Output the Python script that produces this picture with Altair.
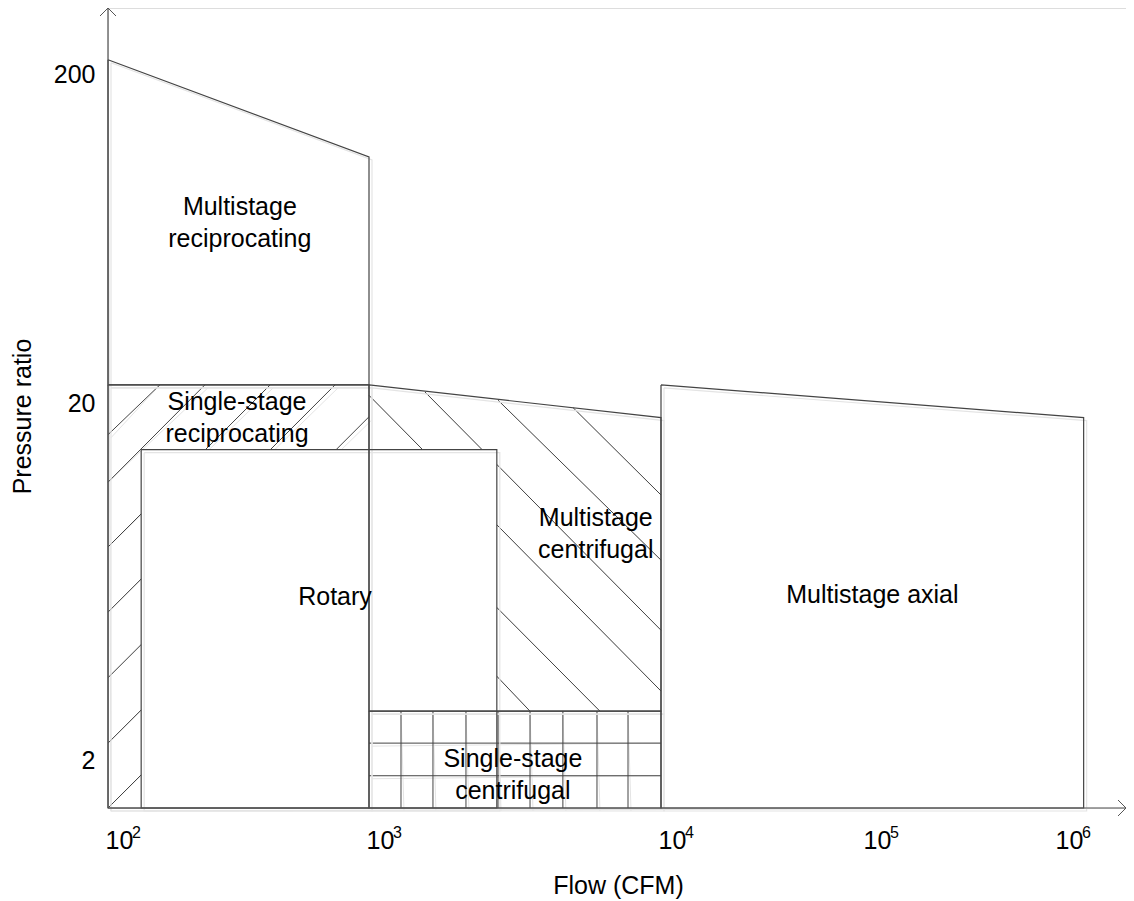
import altair as alt
import numpy as np
import pandas as pd

FONT = "Liberation Sans"
OUT = "#444444"
AXC = "#555555"
SHADOW = "#e4e4e4"
FS = 25

# ---- axis ticks / extents -------------------------------------------------
FLOW_TICK_EXP = [2, 3, 4, 5, 6]            # 10^2 ... 10^6 CFM
EXP_TEXT = ["2", "3", "4", "5", "6"]
PR_TICKS = [2, 20, 200]
PR_MIN = 1.5
PR_TOP = 318
FLOW_END = 2.26e6

# ---- region outlines (flow CFM, pressure ratio) ---------------------------
MREC_FLOW = [100, 1000, 1000, 100, 100]
MREC_PR = [221, 112, 22.7, 22.7, 221]
SREC_FLOW = [100, 1000, 1000, 100, 100]
SREC_PR = [22.7, 22.7, PR_MIN, PR_MIN, 22.7]
ROT_FLOW = [134, 2740, 2740, 134, 134]
ROT_PR = [14.8, 14.8, PR_MIN, PR_MIN, 14.8]
MCEN_FLOW = [1000, 10000, 10000, 1000, 1000]
MCEN_PR = [22.7, 18.2, 2.74, 2.74, 22.7]
SCEN_FLOW = [1000, 10000, 10000, 1000, 1000]
SCEN_PR = [2.74, 2.74, PR_MIN, PR_MIN, 2.74]
AX_FLOW = [10000, 1.36e6, 1.36e6, 10000, 10000]
AX_PR = [22.7, 18.2, PR_MIN, PR_MIN, 22.7]

# ---- hatch of single-stage reciprocating ("/") ----------------------------
SREC_H_F1 = [100, 235, 418, 741, 1000, 1000, 1000]
SREC_H_P1 = [16.3, 22.7, 22.7, 22.7, 18.3, 12.0, 7.90]
SREC_H_F2 = [158, 100, 100, 100, 100, 100, 100]
SREC_H_P2 = [22.7, 12.0, 7.90, 5.19, 3.40, 2.23, PR_MIN]

# ---- hatch of multistage centrifugal ("\") --------------------------------
MCEN_H_F1 = [1000, 1555, 2766, 5000, 1000, 1000]
MCEN_H_P1 = [21.1, 21.6, 20.4, 19.4, 12.25, 8.16]
MCEN_H_F2 = [10000, 10000, 10000, 10000, 6180, 3560]
MCEN_H_P2 = [3.12, 4.62, 7.26, 11.05, 2.74, 2.74]

# ---- grid of single-stage centrifugal -------------------------------------
SCEN_GRID_FLOW = [1287, 1656, 2148, 2766, 3560, 4613, 6036, 7709]
SCEN_GRID_PR = [2.23, 1.82]

# ---- labels (anchor = first text line) ------------------------------------
LABELS = ["Multistage\nreciprocating", "Single-stage\nreciprocating", "Rotary",
          "Multistage\ncentrifugal", "Single-stage\ncentrifugal", "Multistage axial"]
LABEL_FLOW = [320, 312, 741, 5980, 3110, 1.08e5]
LABEL_PR = [78.9, 20.1, 5.72, 9.53, 2.01, 5.80]

L = np.log10

# ---- tables ----------------------------------------------------------------
rows = []
for name, fl, pr in [("Multistage reciprocating", MREC_FLOW, MREC_PR),
                     ("Single-stage reciprocating", SREC_FLOW, SREC_PR),
                     ("Rotary", ROT_FLOW, ROT_PR),
                     ("Multistage centrifugal", MCEN_FLOW, MCEN_PR),
                     ("Single-stage centrifugal", SCEN_FLOW, SCEN_PR),
                     ("Multistage axial", AX_FLOW, AX_PR)]:
    for i, (f, p) in enumerate(zip(fl, pr)):
        rows.append({"region": name, "i": i, "lx": float(L(f)), "ly": float(L(p))})
outline = pd.DataFrame(rows)

seg_rows = []
for f1, p1, f2, p2 in zip(SREC_H_F1 + MCEN_H_F1, SREC_H_P1 + MCEN_H_P1,
                          SREC_H_F2 + MCEN_H_F2, SREC_H_P2 + MCEN_H_P2):
    seg_rows.append({"lx1": float(L(f1)), "ly1": float(L(p1)),
                     "lx2": float(L(f2)), "ly2": float(L(p2))})
hatch = pd.DataFrame(seg_rows)

grid_rows = []
for f in SCEN_GRID_FLOW:
    grid_rows.append({"lx1": float(L(f)), "ly1": float(L(PR_MIN)),
                      "lx2": float(L(f)), "ly2": float(L(2.74))})
for p in SCEN_GRID_PR:
    grid_rows.append({"lx1": 3.0, "ly1": float(L(p)), "lx2": 4.0, "ly2": float(L(p))})
grid = pd.DataFrame(grid_rows)

rot_fill = pd.DataFrame({"lx1": [float(L(ROT_FLOW[0]))], "lx2": [float(L(ROT_FLOW[1]))],
                         "ly1": [float(L(ROT_PR[0]))], "ly2": [float(L(PR_MIN))]})

axes_seg = pd.DataFrame({
    "lx1": [2.0, 2.0], "ly1": [float(L(PR_MIN)), float(L(PR_MIN))],
    "lx2": [2.0, float(L(FLOW_END))], "ly2": [float(L(PR_TOP)), float(L(PR_MIN))]})

labels = pd.DataFrame({"text": LABELS, "lx": L(LABEL_FLOW), "ly": L(LABEL_PR)})
exps = pd.DataFrame({"text": EXP_TEXT, "lx": FLOW_TICK_EXP,
                     "ly": [float(L(PR_MIN))] * len(EXP_TEXT)})
arrows = pd.DataFrame({"lx": [2.0, float(L(FLOW_END))],
                       "ly": [float(L(PR_TOP)), float(L(PR_MIN))],
                       "dir": ["up", "right"]})

# ---- scales / axes ---------------------------------------------------------
W, H = 1018, 800
xscale = alt.Scale(type="linear", domain=[2, 3, 4, 5, 6, float(L(FLOW_END))],
                   range=[0, 261, 553, 758, 950, W], nice=False, zero=False)
yscale = alt.Scale(type="linear",
                   domain=[float(L(PR_MIN)), float(L(2)), float(L(20)), float(L(200)), float(L(PR_TOP))],
                   range=[H, 752, 395, 66, 0], nice=False, zero=False)

xaxis = alt.Axis(values=FLOW_TICK_EXP, labelExpr="'10'", title="Flow (CFM)",
                 ticks=False, tickSize=0, grid=False, domain=False,
                 labelFontSize=FS, labelColor="black", labelAlign="left", labelOffset=-3,
                 labelBaseline="alphabetic", labelPadding=40, labelFlush=False,
                 labelOverlap=False, labelFont=FONT,
                 titleFontSize=FS, titleFontWeight="normal", titleColor="black",
                 titleFont=FONT, titleX=510, titleY=77, titleBaseline="middle",
                 titleAlign="center")
yaxis = alt.Axis(values=[float(L(v)) for v in PR_TICKS],
                 labelExpr="format(pow(10, datum.value), '.0f')",
                 title="Pressure ratio", ticks=False, tickSize=0, grid=False,
                 domain=False, labelFontSize=FS, labelColor="black",
                 labelPadding=13, labelBaseline="middle", labelFlush=False,
                 labelOverlap=False, labelFont=FONT,
                 titleFontSize=FS, titleFontWeight="normal", titleColor="black",
                 titleFont=FONT, titleX=-86, titleY=408, titleAngle=270,
                 titleBaseline="middle", titleAlign="center")


def X(f):
    return alt.X(f, type="quantitative", scale=xscale, axis=xaxis)


def Y(f):
    return alt.Y(f, type="quantitative", scale=yscale, axis=yaxis)


def segs(df, color, off=0, width=1.0):
    kw = {}
    if off:
        kw = {"xOffset": off, "yOffset": off}
    return alt.Chart(df).mark_rule(color=color, strokeWidth=width, **kw).encode(
        x=X("lx1"), x2="lx2", y=Y("ly1"), y2="ly2")


axis_shadow = segs(axes_seg, SHADOW, off=3, width=1.2)
axis_lines = segs(axes_seg, AXC, width=1.2)

hatch_shadow = segs(hatch, SHADOW, off=3)
hatch_lines = segs(hatch, OUT, width=1.0)

rot = alt.Chart(rot_fill).mark_rect(fill="white").encode(
    x=X("lx1"), x2="lx2", y=Y("ly1"), y2="ly2")

grid_shadow = segs(grid, SHADOW, off=3)
grid_lines = segs(grid, OUT)

outline_shadow = alt.Chart(outline).mark_line(color=SHADOW, strokeWidth=1.2,
                                              xOffset=3, yOffset=3).encode(
    x=X("lx"), y=Y("ly"), detail="region:N", order="i:Q")
outline_lines = alt.Chart(outline).mark_line(color=OUT, strokeWidth=1.2).encode(
    x=X("lx"), y=Y("ly"), detail="region:N", order="i:Q")

text = alt.Chart(labels).mark_text(font=FONT, fontSize=FS, color="black",
                                   lineBreak="\n", lineHeight=32,
                                   align="center", baseline="middle").encode(
    x=X("lx"), y=Y("ly"), text="text:N")

exp_text = alt.Chart(exps).mark_text(font=FONT, fontSize=16, color="black",
                                     align="left", baseline="middle",
                                     dx=24, dy=25).encode(
    x=X("lx"), y=Y("ly"), text="text:N")

arrow_up = alt.Chart(arrows).transform_filter("datum.dir == 'up'").mark_point(
    shape="M-1,1L0,0L1,1", size=256, filled=False, color=AXC, opacity=1,
    strokeWidth=1).encode(x=X("lx"), y=Y("ly"))
arrow_right = alt.Chart(arrows).transform_filter("datum.dir == 'right'").mark_point(
    shape="M-1,-1L0,0L-1,1", size=256, filled=False, color=AXC, opacity=1,
    strokeWidth=1).encode(x=X("lx"), y=Y("ly"))

chart = alt.layer(
    axis_shadow, hatch_shadow, hatch_lines, rot, grid_shadow, grid_lines,
    outline_shadow, outline_lines, axis_lines, text, exp_text, arrow_up, arrow_right
).properties(
    width=W, height=H,
    padding={"left": 100, "top": 0, "right": 0, "bottom": 93},
    autosize=alt.AutoSizeParams(type="none"),
).configure_view(strokeWidth=0, stroke="transparent").configure(background="white")

chart.save("out.html", embed_options={"renderer": "svg", "actions": False})
